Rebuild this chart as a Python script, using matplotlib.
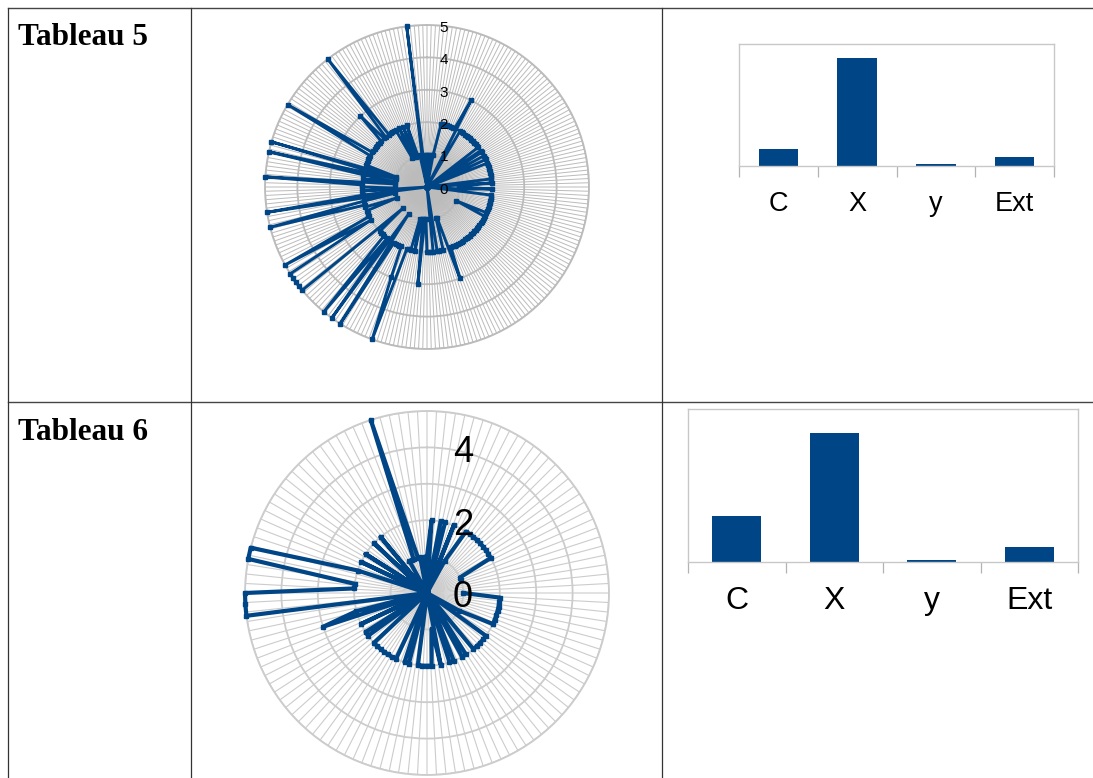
import numpy as np
import matplotlib
matplotlib.use('Agg')
import matplotlib.pyplot as plt

BLUE = '#004586'
W, H = 1093, 778

## Values, clockwise from the top

radar5_values = [
    1, 0, 1, 0, 1, 0, 1, 2, 2, 2,
    2, 2, 2, 2, 2, 3, 0, 2, 2, 2,
    2, 2, 2, 2, 2, 2, 2, 2, 2, 2,
    0, 2, 2, 0, 2, 2, 2, 0, 2, 2,
    2, 2, 2, 2, 2, 2, 2, 0, 2, 1,
    1, 2, 1, 0, 2, 2, 2, 2, 2, 2,
    2, 2, 2, 2, 1, 2, 2, 2, 2, 2,
    2, 2, 2, 2, 2, 2, 2, 2, 2, 2,
    2, 2, 2, 2, 2, 2, 2, 2, 2, 3,
    1, 1, 2, 2, 2, 2, 0, 2, 2, 2,
    2, 1, 1, 3, 1, 1, 2, 1, 2, 2,
    2, 5, 3, 2, 2, 2, 2, 2, 5, 1,
    5, 2, 5, 2, 2, 2, 2, 1, 5, 5,
    5, 5, 5, 2, 5, 2, 2, 2, 2, 1,
    2, 2, 5, 2, 1, 5, 2, 0, 2, 1,
    2, 2, 5, 1, 2, 1, 2, 5, 1, 5,
    1, 2, 2, 2, 2, 2, 2, 5, 2, 2,
    2, 2, 2, 2, 2, 2, 3, 2, 2, 5,
    2, 2, 2, 2, 2, 1, 2, 1, 2, 1,
    2, 1, 1, 1, 0, 1, 5, 0, 1, 0,
]

radar6_values = [
    1, 2, 0, 2, 2, 0, 2, 0, 1, 2,
    2, 2, 2, 2, 2, 2, 2, 2, 1, 1,
    np.nan, np.nan, np.nan, np.nan, np.nan, 1, 2, 2, 2, 2,
    2, 2, 2, 1, 0, 2, 2, 2, 2, 2,
    0, 2, 2, 0, 2, 2, 0, 2, 1, 2,
    2, 2, 2, 0, 2, 2, 0, 2, 2, 2,
    2, 2, 2, 2, 0, 2, 2, 0, 2, 0,
    3, 2, 0, 5, 5, 5, 2, 2, 5, 5,
    2, 0, 2, 0, 2, 0, 0, 2, 0, 2,
    0, 0, 1, 1, 1, 5, 1, 1, 0, 1,
]

categories = ['C', 'X', 'y', 'Ext']
bars5_values = [17, 108, 2, 9]
bars6_values = [46, 129, 2, 15]


def px_axes(fig, left, top, right, bottom, **kw):
    # axes placed by picture pixels
    return fig.add_axes([left / W, 1 - bottom / H, (right - left) / W, (bottom - top) / H], **kw)


def radar(fig, cx, cy, radius, values, spokes, grid, spoke_lw, line_lw, ms, ticks, font, dx, dy):
    ax = px_axes(fig, cx - radius, cy - radius, cx + radius, cy + radius, projection='polar')
    ax.patch.set_alpha(0)
    ax.set_theta_zero_location('N')
    ax.set_theta_direction(-1)
    n = len(values)
    theta = np.arange(n + 1) * 2 * np.pi / n
    # the spokes are a bit denser than the points that could be read
    ax.set_xticks(np.arange(spokes) * 2 * np.pi / spokes)
    ax.set_xticklabels([])
    ax.set_yticks(range(1, 6))
    ax.set_yticklabels([])
    ax.set_ylim(0, 5)
    ax.xaxis.grid(True, color=grid, lw=spoke_lw)
    ax.yaxis.grid(True, color=grid, lw=1.3)
    for line in ax.xaxis.get_gridlines():
        line.set_snap(False)
    ax.spines['polar'].set_color(grid)
    ax.spines['polar'].set_linewidth(1.3)
    r = np.append(values, values[0])
    ax.plot(theta, r, color=BLUE, lw=line_lw, marker='s', ms=ms, clip_on=False, zorder=5)
    for t in ticks:
        ax.annotate(str(t), (0, t), xytext=(dx, dy), textcoords='offset points', ha='center', va='center',
                    fontsize=font, family='Liberation Sans', annotation_clip=False, zorder=6)
    return ax


def bars(fig, left, top, right, bottom, tick_px, values, ymax, font, pad):
    ax = px_axes(fig, left, top, right, bottom)
    ax.patch.set_alpha(0)
    ax.bar(range(len(values)), values, width=0.5, color=BLUE)
    ax.set_xlim(-0.5, len(values) - 0.5)
    ax.set_ylim(0, ymax)
    ax.set_yticks([])
    ax.set_xticks(np.arange(len(values) + 1) - 0.5)
    ax.set_xticklabels([])
    ax.set_xticks(range(len(values)), minor=True)
    ax.set_xticklabels(categories, minor=True, fontsize=font, family='Liberation Sans')
    ax.tick_params(axis='x', which='major', length=tick_px * 0.72, color='#b3b3b3', width=0.9)
    ax.tick_params(axis='x', which='minor', length=0, pad=pad)
    for s in ax.spines.values():
        s.set_color('#c8c8c8')
        s.set_linewidth(1.0)
    return ax


fig = plt.figure(figsize=(W / 100, H / 100), dpi=100)

## Table rules and row titles

back = fig.add_axes([0, 0, 1, 1])
back.set_xlim(0, W)
back.set_ylim(H, 0)
back.axis('off')
for y in [8, 402]:
    back.plot([8, W], [y, y], color='#444444', lw=1.0)
for x in [8, 191, 662]:
    back.plot([x, x], [8, H], color='#333333', lw=0.9)
for y, title in [(37, 'Tableau 5'), (432, 'Tableau 6')]:
    back.text(18, y, title, family='Liberation Serif', weight='bold', fontsize=22.5, va='center')

radar(fig, 427, 187, 162, radar5_values, 240, '#bbbbbb', 0.7, 2.1, 2.5, range(6), 11, 12, -2)
radar(fig, 427, 593, 182, radar6_values, 120, '#cccccc', 0.8, 3.0, 3.2, [0, 2, 4], 26, 26, -3.5)

bars(fig, 739, 44, 1054, 166, 11, bars5_values, 122, 19.5, 18)
bars(fig, 688, 409, 1078, 562, 11, bars6_values, 153, 23, 17)

fig.savefig('out.png', dpi=100)
